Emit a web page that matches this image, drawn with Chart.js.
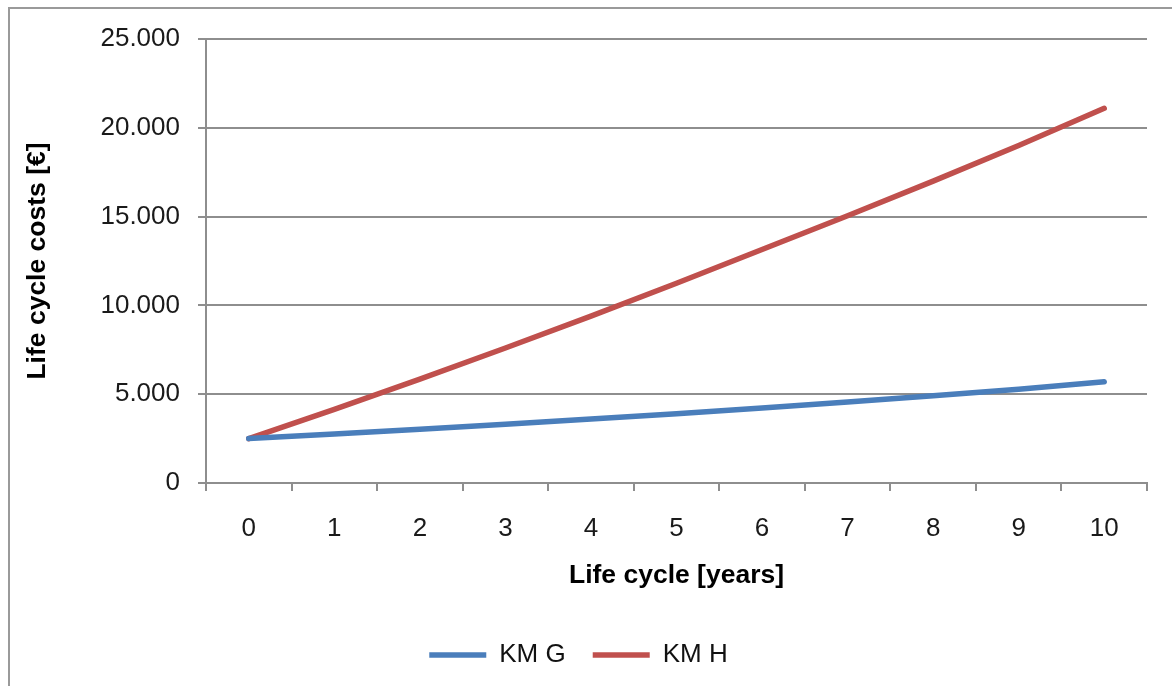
<!DOCTYPE html>
<html>
<head>
<meta charset="utf-8">
<script src="https://cdn.jsdelivr.net/npm/chart.js@4/dist/chart.umd.min.js"></script>
<style>
  html, body { margin: 0; padding: 0; background: #fff; }
  #wrap { width: 1172px; height: 686px; position: relative; }
</style>
</head>
<body>
<div id="wrap"><canvas id="myChart" width="1172" height="686"></canvas></div>
<script>
// data
const years = ['0', '1', '2', '3', '4', '5', '6', '7', '8', '9', '10'];
const kmG = [2500, 2760, 3030, 3310, 3600, 3900, 4220, 4560, 4910, 5280, 5700];
const kmH = [2500, 4150, 5850, 7600, 9400, 11250, 13150, 15050, 17000, 19000, 21100];
const yTicks = [0, 5000, 10000, 15000, 20000, 25000];

const gridGray = '#8e8e8e';
const fontFam = '"Liberation Sans", Arial, sans-serif';

// outer frame (only left / top edges visible in the picture)
const framePlugin = {
  id: 'frame',
  beforeDraw(chart) {
    const ctx = chart.ctx;
    ctx.save();
    ctx.strokeStyle = '#9a9a9a';
    ctx.lineWidth = 2;
    ctx.strokeRect(9, 8, 1200, 720);
    ctx.restore();
  }
};

const fmt = v => String(v).replace(/\B(?=(\d{3})+(?!\d))/g, '.');

const config = {
  type: 'line',
  data: {
    labels: years,
    datasets: [{
      label: 'KM G',
      data: kmG,
      borderColor: '#4a7ebb',
      backgroundColor: '#4a7ebb',
      borderWidth: 5.5,
      borderCapStyle: 'round',
      pointRadius: 0,
      tension: 0
    }, {
      label: 'KM H',
      data: kmH,
      borderColor: '#c0504d',
      backgroundColor: '#c0504d',
      borderWidth: 5.5,
      borderCapStyle: 'round',
      pointRadius: 0,
      tension: 0
    }]
  },
  options: {
    responsive: false,
    animation: false,
    layout: { padding: { left: 10, top: 39, right: 25, bottom: 8 } },
    plugins: {
      tooltip: { enabled: false },
      legend: {
        position: 'bottom',
        labels: {
          usePointStyle: true,
          pointStyle: 'line',
          pointStyleWidth: 57,
          padding: 27,
          color: '#111',
          font: { family: fontFam, size: 26 }
        }
      }
    },
    scales: {
      x: {
        type: 'category',
        offset: true,
        afterFit(scale) { scale.height = 132; },
        grid: {
          offset: true,
          drawOnChartArea: false,
          drawTicks: true,
          tickLength: 8,
          color: gridGray,
          lineWidth: 2
        },
        border: { color: gridGray, width: 2 },
        ticks: {
          padding: 22,
          color: '#1a1a1a',
          font: { family: fontFam, size: 26 }
        },
        title: {
          display: true,
          text: 'Life cycle [years]',
          color: '#000',
          font: { family: fontFam, size: 26.5, weight: 'bold' },
          padding: { top: 0, bottom: 23 }
        }
      },
      y: {
        min: 0,
        max: 25000,
        afterFit(scale) { scale.width = 196; },
        afterBuildTicks(scale) { scale.ticks = yTicks.map(v => ({ value: v })); },
        grid: {
          color: gridGray,
          lineWidth: 2,
          drawTicks: true,
          tickLength: 8
        },
        border: { color: gridGray, width: 2 },
        ticks: {
          padding: 18,
          color: '#1a1a1a',
          font: { family: fontFam, size: 26 },
          callback: v => fmt(v)
        },
        title: {
          display: true,
          text: 'Life cycle costs [€]',
          color: '#000',
          font: { family: fontFam, size: 26.5, weight: 'bold' },
          padding: { top: 12, bottom: 0 }
        }
      }
    }
  },
  plugins: [framePlugin]
};

const myChart = new Chart(document.getElementById('myChart'), config);
</script>
</body>
</html>
